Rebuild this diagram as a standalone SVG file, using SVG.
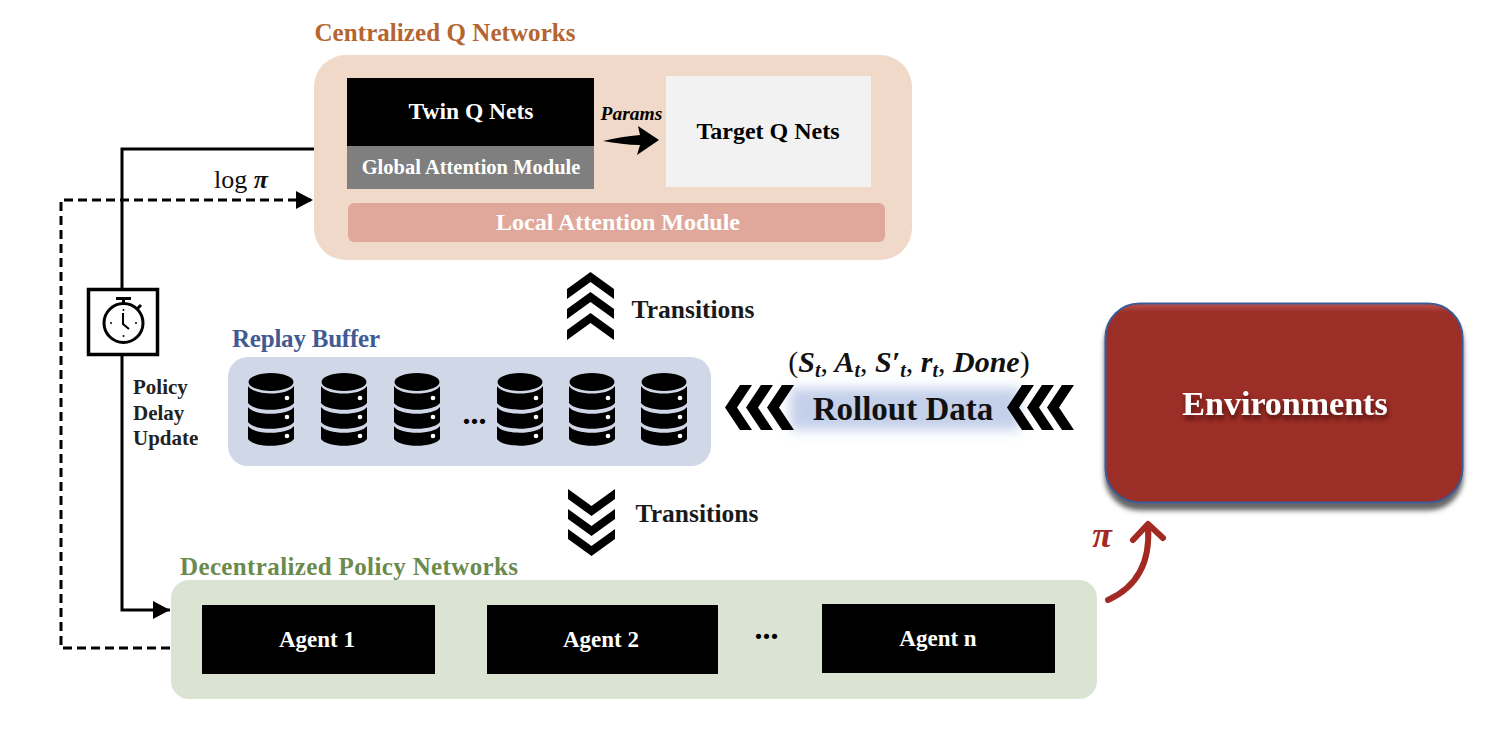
<svg xmlns="http://www.w3.org/2000/svg" xmlns:xlink="http://www.w3.org/1999/xlink" width="1506" height="742" viewBox="0 0 1506 742">
<style>
text{font-family:"Liberation Serif","Times New Roman",serif;text-anchor:middle}
.b{font-weight:700}
.h{font-weight:700;font-size:25px}
.m{font-weight:700;font-size:25.500px;fill:#1a1a1a}
.w{fill:#fff;font-weight:700}
.k{fill:#000;font-weight:700}
.line{fill:none;stroke:#000;stroke-width:3}
.dash{fill:none;stroke:#000;stroke-width:3;stroke-dasharray:9 5}
.ag{fill:#000}
.red{fill:none;stroke:#a32a22;stroke-width:6;stroke-linecap:round;stroke-linejoin:round}
</style>
<defs>
<marker id="ah" markerWidth="18" markerHeight="20" refX="17" refY="9" orient="auto" markerUnits="userSpaceOnUse"><path d="M0 0L17 9L0 18Z" fill="#000"/></marker>
<filter id="soft" x="-20%" y="-60%" width="140%" height="220%"><feGaussianBlur stdDeviation="6"/></filter>
<filter id="ts" x="-10%" y="-30%" width="120%" height="170%"><feDropShadow dx="1" dy="4" stdDeviation="2.500" flood-color="#3a0a08" flood-opacity=".8"/></filter>
<filter id="bs" x="-5%" y="-5%" width="110%" height="115%"><feDropShadow dx="0" dy="7" stdDeviation="2.500" flood-color="#333" flood-opacity=".75"/></filter>
<linearGradient id="eg" x1="0" y1="0" x2="0" y2="1"><stop offset="0" stop-color="#b95350"/><stop offset=".045" stop-color="#9b2e28"/><stop offset="1" stop-color="#9b2e28"/></linearGradient>
<g id="db">
<ellipse cx="23" cy="9" rx="22.500" ry="9" fill="#000"/>
<path d="M0 13C6 23 40 23 46 13V30C40 39 6 39 0 30Z" fill="#000"/>
<path d="M0 34C6 43 40 43 46 34V49C40 58 6 58 0 49Z" fill="#000"/>
<path d="M0 53C6 62 40 62 46 53V66C40 75 6 75 0 66Z" fill="#000"/>
<circle cx="39" cy="25" r="2.300" fill="#fff"/><circle cx="39" cy="44" r="2.300" fill="#fff"/><circle cx="39" cy="63" r="2.300" fill="#fff"/>
</g>
<path id="chevL" d="M15 0H27L12 22.500L27 45H15L0 22.500Z" fill="#000"/>
<path id="chevU" d="M23.500 0L47 17V27L23.500 10L0 27V17Z" fill="#000"/>
<path id="chevD" d="M0 0L23.500 17L47 0V10L23.500 27L0 10Z" fill="#000"/>
</defs>
<rect width="1506" height="742" fill="#fff"/>

<g id="centralized-q-networks">
<text class="h" x="445" y="41" fill="#b5652f" textLength="261">Centralized Q Networks</text>
<rect x="314" y="55" width="598" height="205" rx="32" fill="#f0d9c8"/>
</g>
<g id="twin-q-nets">
<rect x="347" y="78" width="247" height="68" fill="#000"/>
<text class="w" x="471" y="119" font-size="23.500">Twin Q Nets</text>
</g>
<g id="global-attention-module">
<rect x="347" y="146" width="247" height="43" fill="#7f7f7f"/>
<text class="w" x="471" y="174" font-size="20.500">Global Attention Module</text>
</g>
<g id="params"><text x="631.500" y="120" font-size="19.500" class="k" font-style="italic">Params</text></g>
<g id="target-q-nets">
<rect x="666" y="76" width="205" height="111" fill="#f2f2f2"/>
<text class="k" x="768" y="139" font-size="24">Target Q Nets</text>
</g>
<g id="local-attention-module">
<rect x="348" y="203" width="537" height="39" rx="6" fill="#dfa89b"/>
<text class="w" x="618" y="230" font-size="24">Local Attention Module</text>
</g>
<g id="log-pi"><text x="241" y="188" font-size="26" fill="#111">log <tspan font-weight="700" font-style="italic">π</tspan></text></g>

<g id="connectors">
<path class="line" d="M314 149H122V288"/>
<path class="line" d="M122 354V610H170" marker-end="url(#ah)"/>
<path class="dash" d="M170 648H61V200H313" marker-end="url(#ah)"/>
<path class="red" d="M1108 600C1130 590 1151 570 1148 527"/>
<path class="red" d="M1133 540L1148 524L1163 538"/>
<path d="M603 141C615 138 628 136 640 135L638 126L659 140L637 155L640 145C628 145 615 143 603 141Z" fill="#000"/>
</g>

<g id="timer">
<rect x="88.500" y="289.500" width="69" height="65" fill="#fff" stroke="#000" stroke-width="3.500"/>
<circle cx="123.500" cy="323" r="19.500" fill="none" stroke="#000" stroke-width="3"/>
<path d="M116 298.500H131M123.500 299V304M137 309L141 305" fill="none" stroke="#000" stroke-width="3"/>
<path d="M123 313V324L129 329" fill="none" stroke="#000" stroke-width="2"/>
<circle cx="123.500" cy="310" r="1" fill="#000"/><circle cx="123.500" cy="336" r="1" fill="#000"/><circle cx="111" cy="323" r="1" fill="#000"/><circle cx="136" cy="323" r="1" fill="#000"/>
</g>
<g id="policy-delay-update" font-size="21">
<text class="b" x="133" y="394" fill="#222" style="text-anchor:start">Policy</text>
<text class="b" x="133" y="420" fill="#222" style="text-anchor:start">Delay</text>
<text class="b" x="133" y="445" fill="#222" style="text-anchor:start">Update</text>
</g>

<g id="replay-buffer">
<text class="h" x="306" y="347" fill="#3f5a94" textLength="148">Replay Buffer</text>
<rect x="228" y="357" width="483" height="109" rx="20" fill="#d0d7e7"/>
<use xlink:href="#db" href="#db" x="248" y="373"/>
<use xlink:href="#db" href="#db" x="321" y="373"/>
<use xlink:href="#db" href="#db" x="394" y="373"/>
<use xlink:href="#db" href="#db" x="497" y="373"/>
<use xlink:href="#db" href="#db" x="569" y="373"/>
<use xlink:href="#db" href="#db" x="641" y="373"/>
<text class="k" x="474.500" y="424" font-size="32">...</text>
</g>

<g id="transitions-up">
<use xlink:href="#chevU" href="#chevU" x="567" y="272"/>
<use xlink:href="#chevU" href="#chevU" x="567" y="292"/>
<use xlink:href="#chevU" href="#chevU" x="567" y="313"/>
<text class="m" x="693" y="318">Transitions</text>
</g>
<g id="transitions-down">
<use xlink:href="#chevD" href="#chevD" x="568" y="489"/>
<use xlink:href="#chevD" href="#chevD" x="568" y="509"/>
<use xlink:href="#chevD" href="#chevD" x="568" y="529"/>
<text class="m" x="697" y="522">Transitions</text>
</g>

<g id="rollout-data">
<rect x="790" y="388" width="230" height="42" fill="#c4d0ea" filter="url(#soft)"/>
<text class="b" x="903" y="420" font-size="33" fill="#111">Rollout Data</text>
<text x="909" y="372" font-size="30" fill="#111">(<tspan class="b" font-style="italic">S</tspan><tspan class="b" font-style="italic" font-size="20" dy="5">t</tspan><tspan dy="-5">,</tspan><tspan class="b" font-style="italic"> A</tspan><tspan class="b" font-style="italic" font-size="20" dy="5">t</tspan><tspan dy="-5">,</tspan><tspan class="b" font-style="italic"> S′</tspan><tspan class="b" font-style="italic" font-size="20" dy="5">t</tspan><tspan dy="-5">,</tspan><tspan class="b" font-style="italic"> r</tspan><tspan class="b" font-style="italic" font-size="20" dy="5">t</tspan><tspan dy="-5">,</tspan><tspan class="b" font-style="italic"> Done</tspan>)</text>
<use xlink:href="#chevL" href="#chevL" x="725" y="385"/>
<use xlink:href="#chevL" href="#chevL" x="746" y="385"/>
<use xlink:href="#chevL" href="#chevL" x="767" y="385"/>
<use xlink:href="#chevL" href="#chevL" x="1007" y="385"/>
<use xlink:href="#chevL" href="#chevL" x="1027" y="385"/>
<use xlink:href="#chevL" href="#chevL" x="1047" y="385"/>
</g>

<g id="environments">
<rect x="1105.500" y="303.500" width="357" height="199" rx="34" fill="url(#eg)" stroke="#3c5a94" stroke-width="2" filter="url(#bs)"/>
<text class="w" x="1285" y="415" font-size="34" filter="url(#ts)">Environments</text>
</g>
<g id="pi-label"><text x="1102" y="547" font-size="36" font-weight="700" font-style="italic" fill="#a32a22">π</text></g>

<g id="decentralized-policy-networks">
<text class="h" x="349" y="575" fill="#6b8a4e" textLength="338">Decentralized Policy Networks</text>
<rect x="171" y="580" width="926" height="119" rx="18" fill="#dbe3d3"/>
</g>
<g id="agent-1"><rect class="ag" x="202" y="605" width="233" height="69"/><text class="w" x="317" y="647" font-size="23">Agent 1</text></g>
<g id="agent-2"><rect class="ag" x="487" y="605" width="231" height="69"/><text class="w" x="601" y="647" font-size="23">Agent 2</text></g>
<text class="k" x="766.500" y="639" font-size="32">...</text>
<g id="agent-n"><rect class="ag" x="822" y="604" width="233" height="69"/><text class="w" x="938" y="646" font-size="23">Agent n</text></g>
</svg>
